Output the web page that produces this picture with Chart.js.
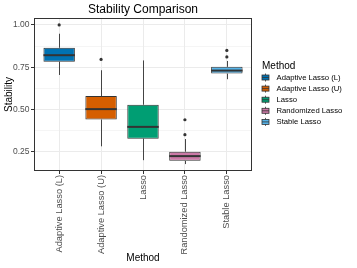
<!DOCTYPE html>
<html>
<head>
<meta charset="utf-8">
<script src="https://cdn.jsdelivr.net/npm/chart.js@4"></script>
<style>
  html, body { margin: 0; padding: 0; background: #fff; }
  #wrap { width: 357px; height: 268px; }
</style>
</head>
<body>
<div id="wrap"><canvas id="box-chart" width="357" height="268"></canvas></div>
<script>
"use strict";

// data
const methods = ["Adaptive Lasso (L)", "Adaptive Lasso (U)", "Lasso", "Randomized Lasso", "Stable Lasso"];
const colors = ["#0072B2", "#D55E00", "#009E73", "#CC79A7", "#56B4E9"];
const lowerWhisker = [0.704, 0.282, 0.200, 0.177, 0.679];
const q1 = [0.782, 0.440, 0.327, 0.196, 0.712];
const median = [0.821, 0.502, 0.397, 0.224, 0.730];
const q3 = [0.865, 0.579, 0.528, 0.250, 0.752];
const upperWhisker = [0.948, 0.732, 0.790, 0.325, 0.787];
const outliers = [[1.0], [0.796], [], [0.439, 0.351], [0.849, 0.811]];
const yTicks = [0.25, 0.375, 0.5, 0.625, 0.75, 0.875, 1.0];
const majorY = [0.25, 0.5, 0.75, 1.0];

const FONT = "'Liberation Sans', Arial, sans-serif";
const INK = "#333333";

// boxes as floating bars
const boxData = methods.map((m, i) => ({ x: i + 1, y: [q1[i], q3[i]] }));
const outlierData = [];
outliers.forEach((list, i) => {
  list.forEach(v => outlierData.push({ x: i + 1, y: v }));
});

// whiskers, medians, panel border and legend
const boxExtras = {
  id: "boxExtras",
  beforeDatasetsDraw(chart) {
    const { ctx, scales: { x, y } } = chart;
    ctx.save();
    ctx.strokeStyle = "#444";
    ctx.lineWidth = 1;
    for (let i = 0; i < methods.length; i++) {
      const px = Math.round(x.getPixelForValue(i + 1)) + 0.5;
      ctx.beginPath();
      ctx.moveTo(px, y.getPixelForValue(upperWhisker[i]));
      ctx.lineTo(px, y.getPixelForValue(q3[i]));
      ctx.moveTo(px, y.getPixelForValue(q1[i]));
      ctx.lineTo(px, y.getPixelForValue(lowerWhisker[i]));
      ctx.stroke();
    }
    ctx.restore();
  },
  afterDatasetsDraw(chart) {
    const { ctx, scales: { x, y }, chartArea } = chart;
    const meta = chart.getDatasetMeta(0);
    ctx.save();
    ctx.strokeStyle = INK;
    ctx.lineWidth = 2;
    meta.data.forEach((bar, i) => {
      const half = bar.width / 2;
      const py = y.getPixelForValue(median[i]);
      ctx.beginPath();
      ctx.moveTo(bar.x - half, py);
      ctx.lineTo(bar.x + half, py);
      ctx.stroke();
    });
    // panel border
    ctx.lineWidth = 1;
    ctx.strokeStyle = INK;
    ctx.strokeRect(chartArea.left + 0.5, chartArea.top + 0.5,
      chartArea.right - chartArea.left - 1, chartArea.bottom - chartArea.top - 1);
    ctx.restore();
  },
  afterDraw(chart) {
    const ctx = chart.ctx;
    ctx.save();
    ctx.fillStyle = "#000";
    ctx.textBaseline = "middle";
    ctx.textAlign = "left";
    ctx.font = "10px " + FONT;
    ctx.fillText("Method", 262, 66);
    ctx.font = "7.7px " + FONT;
    for (let i = 0; i < methods.length; i++) {
      const cy = 77.5 + i * 11.1;
      ctx.strokeStyle = INK;
      ctx.lineWidth = 0.8;
      ctx.beginPath();
      ctx.moveTo(265.5, cy - 4);
      ctx.lineTo(265.5, cy + 4);
      ctx.stroke();
      ctx.fillStyle = colors[i];
      ctx.fillRect(262, cy - 2.5, 7, 5);
      ctx.strokeRect(262, cy - 2.5, 7, 5);
      ctx.beginPath();
      ctx.moveTo(262, cy);
      ctx.lineTo(269, cy);
      ctx.stroke();
      ctx.fillStyle = "#000";
      ctx.fillText(methods[i], 276.5, cy);
    }
    ctx.restore();
  }
};

new Chart(document.getElementById("box-chart"), {
  data: {
    datasets: [
      {
        type: "bar",
        data: boxData,
        backgroundColor: colors,
        borderColor: INK,
        borderWidth: 1,
        borderSkipped: false,
        categoryPercentage: 1,
        barPercentage: 0.75,
        order: 2
      },
      {
        type: "scatter",
        data: outlierData,
        pointRadius: 1.6,
        pointBackgroundColor: INK,
        pointBorderWidth: 0,
        order: 1
      }
    ]
  },
  options: {
    responsive: false,
    animation: false,
    layout: { padding: { left: 0, right: 105, top: 0, bottom: 0 } },
    plugins: {
      legend: { display: false },
      tooltip: { enabled: false },
      title: {
        display: true,
        fullSize: false,
        text: "Stability Comparison",
        color: "#000",
        font: { family: FONT, size: 12, weight: "normal" },
        padding: { top: 2, bottom: 1.6 }
      }
    },
    scales: {
      x: {
        type: "linear",
        min: 0.4,
        max: 5.6,
        offset: false,
        afterBuildTicks: s => { s.ticks = methods.map((m, i) => ({ value: i + 1 })); },
        afterFit: s => { s.height = 97; },
        ticks: {
          autoSkip: false,
          minRotation: 90,
          maxRotation: 90,
          padding: 1,
          color: "#4d4d4d",
          font: { family: FONT, size: 9.3 },
          callback: v => methods[v - 1]
        },
        grid: { offset: false, color: "#ebebeb", lineWidth: 1, tickLength: 3, tickColor: INK },
        border: { display: false },
        title: {
          display: true,
          text: "Method",
          color: "#000",
          font: { family: FONT, size: 10 },
          padding: { top: 0, bottom: 4 }
        }
      },
      y: {
        min: 0.136,
        max: 1.041,
        afterBuildTicks: s => { s.ticks = yTicks.map(v => ({ value: v })); },
        afterFit: s => { s.width = 34; },
        ticks: {
          padding: 1.5,
          color: "#4d4d4d",
          font: { family: FONT, size: 8.5 },
          callback: v => (majorY.includes(v) ? v.toFixed(2) : "")
        },
        grid: {
          color: "#ebebeb",
          lineWidth: c => (c.tick && majorY.includes(c.tick.value) ? 1 : 0.5),
          tickLength: 3,
          tickColor: c => (c.tick && majorY.includes(c.tick.value) ? INK : "rgba(0,0,0,0)")
        },
        border: { display: false },
        title: {
          display: true,
          text: "Stability",
          color: "#000",
          font: { family: FONT, size: 10 },
          padding: { top: 3, bottom: 0 }
        }
      }
    }
  },
  plugins: [boxExtras]
});
</script>
</body>
</html>
